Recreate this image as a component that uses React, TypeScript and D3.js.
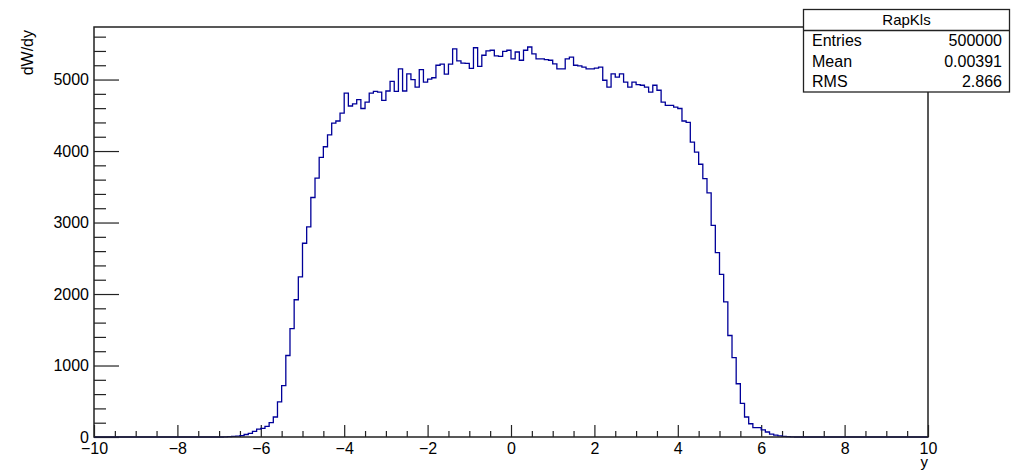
import React, { useEffect, useRef } from 'react';
import * as d3 from 'd3';

// histogram RapKls, bins of 0.1 starting at -7.0
const binWidth = 0.1;
const firstBinLow = -7.0;
const counts = [
  0, 3, 5, 8, 12, 20, 35, 50, 80, 110,
  120, 150, 200, 280, 490, 720, 1140, 1515, 1920, 2240,
  2710, 2940, 3350, 3620, 3910, 4060, 4225, 4390, 4420, 4530,
  4810, 4630, 4660, 4720, 4595, 4685, 4810, 4835, 4825, 4710,
  4840, 4975, 4835, 5150, 4840, 5080, 5000, 4895, 5140, 4965,
  5005, 5025, 5200, 5215, 5075, 5215, 5430, 5260, 5230, 5225,
  5155, 5445, 5185, 5340, 5400, 5410, 5330, 5325, 5395, 5410,
  5290, 5385, 5270, 5410, 5455, 5360, 5290, 5290, 5280, 5270,
  5220, 5150, 5150, 5290, 5315, 5200, 5190, 5175, 5150, 5150,
  5160, 5175, 4990, 4895, 5080, 5035, 5080, 4965, 4895, 4965,
  4930, 4920, 4895, 4825, 4920, 4850, 4685, 4640, 4640, 4615,
  4595, 4420, 4400, 4125, 3985, 3815, 3615, 3415, 2960, 2580,
  2275, 1890, 1420, 1110, 745, 470, 280, 185, 130, 130,
  100, 70, 40, 25, 15, 10, 6, 3, 0, 0,
];

const xMajorTicks = [-10, -8, -6, -4, -2, 0, 2, 4, 6, 8, 10];
const yMajorTicks = [0, 1000, 2000, 3000, 4000, 5000];
const xTitle = 'y';
const yTitle = 'dW/dy';
const histName = 'RapKls';
const statsLabels = ['Entries', 'Mean', 'RMS'];
const statsValues = ['500000', '0.00391', '2.866'];

const W = 1012;
const H = 470;
const FONT = '"Liberation Sans", Arial, sans-serif';

export default function App() {
  const ref = useRef<SVGSVGElement>(null);

  useEffect(() => {
    const svg = d3.select(ref.current);
    svg.selectAll('*').remove();

    const left = 94, right = 928, top = 27, bottom = 437;
    const x = d3.scaleLinear().domain([-10, 10]).range([left, right]);
    const y = d3.scaleLinear().domain([0, 5735]).range([bottom, top]);

    // minor ticks
    const xMinor = d3.range(-10, 10.001, 0.5).filter(v => Math.abs(v % 2) > 1e-6);
    const yMinor = d3.range(0, 5700, 200).filter(v => v % 1000 !== 0);
    const fmt = (d: any) => (d < 0 ? '\u2212' + Math.abs(d) : String(d));

    svg.append('g').attr('transform', `translate(0,${bottom})`)
      .call(d3.axisBottom(x).tickValues(xMajorTicks).tickSize(-12).tickSizeOuter(0)
        .tickPadding(6).tickFormat(fmt));
    svg.append('g').attr('transform', `translate(0,${bottom})`)
      .call(d3.axisBottom(x).tickValues(xMinor).tickSize(-6).tickSizeOuter(0).tickFormat(() => ''));

    svg.append('g').attr('transform', `translate(${left},0)`)
      .call(d3.axisLeft(y).tickValues(yMajorTicks).tickSize(-25).tickSizeOuter(0)
        .tickPadding(5).tickFormat(fmt));
    svg.append('g').attr('transform', `translate(${left},0)`)
      .call(d3.axisLeft(y).tickValues(yMinor).tickSize(-12).tickSizeOuter(0).tickFormat(() => ''));

    svg.selectAll('.domain').remove();
    svg.selectAll('.tick line').attr('stroke', '#222').attr('stroke-width', 1.2);
    svg.selectAll('.tick text').attr('font-family', FONT).attr('font-size', 16).attr('fill', '#000');

    // histogram outline
    const pts: [number, number][] = [[-10, 0], [firstBinLow, 0]];
    counts.forEach((c, i) => {
      const lo = firstBinLow + i * binWidth;
      pts.push([lo, c], [lo + binWidth, c]);
    });
    pts.push([firstBinLow + counts.length * binWidth, 0], [10, 0]);
    const line = d3.line<[number, number]>().x(d => x(d[0])).y(d => y(d[1]));
    svg.append('path')
      .attr('d', line(pts))
      .attr('fill', 'none')
      .attr('stroke', '#000099')
      .attr('stroke-width', 1.3);

    // frame
    svg.append('path')
      .attr('d', `M${left},${bottom}H${right}V${top}H${left}Z`)
      .attr('fill', 'none')
      .attr('stroke', '#222')
      .attr('stroke-width', 1.5);

    // axis titles
    svg.append('text')
      .attr('x', right).attr('y', 467)
      .attr('text-anchor', 'end')
      .attr('font-family', FONT).attr('font-size', 15)
      .text(xTitle);
    svg.append('text')
      .attr('transform', `translate(33,30) rotate(-90)`)
      .attr('text-anchor', 'end')
      .attr('font-family', FONT).attr('font-size', 16)
      .text(yTitle);

    // stats box
    const bx = 803.5, by = 9.5, bw = 206, bh = 82.5;
    const stats = svg.append('g');
    stats.append('rect')
      .attr('x', bx).attr('y', by).attr('width', bw).attr('height', bh)
      .attr('fill', '#fff').attr('stroke', '#222').attr('stroke-width', 1.3);
    stats.append('line')
      .attr('x1', bx).attr('x2', bx + bw).attr('y1', 30.5).attr('y2', 30.5)
      .attr('stroke', '#222').attr('stroke-width', 1.3);
    stats.append('text')
      .attr('x', bx + bw / 2).attr('y', 25)
      .attr('text-anchor', 'middle')
      .attr('font-family', FONT).attr('font-size', 15)
      .text(histName);
    statsLabels.forEach((s, i) => {
      stats.append('text')
        .attr('x', 812).attr('y', 46 + i * 20.5)
        .attr('font-family', FONT).attr('font-size', 16)
        .text(s);
      stats.append('text')
        .attr('x', 1002).attr('y', 46 + i * 20.5)
        .attr('text-anchor', 'end')
        .attr('font-family', FONT).attr('font-size', 16)
        .text(statsValues[i]);
    });
  }, []);

  return (
    <svg ref={ref} width={W} height={H}
      style={{ position: 'absolute', left: 0, top: 0, background: '#fff' }} />
  );
}
